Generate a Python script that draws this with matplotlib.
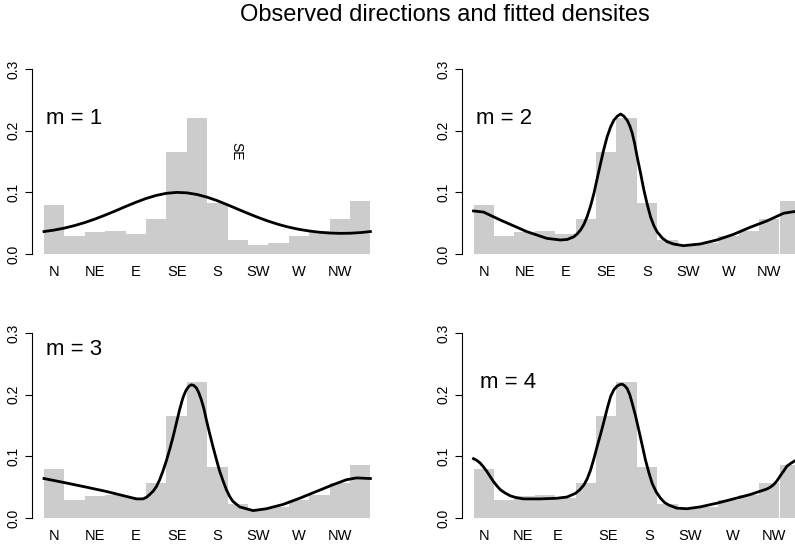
import matplotlib
matplotlib.use('Agg')
import matplotlib.pyplot as plt

plt.rcParams['font.family'] = ['Liberation Sans', 'DejaVu Sans']

directions = ['N', 'NE', 'E', 'SE', 'S', 'SW', 'W', 'NW']

# observed relative frequencies, 16 direction bins starting at N, clockwise
observed = [0.0795, 0.029, 0.035, 0.038, 0.032, 0.057, 0.166, 0.221,
            0.083, 0.023, 0.014, 0.018, 0.029, 0.037, 0.056, 0.086]

# fitted densities, x in bin units (0..16)
fit1_x = [0, 0.5, 1, 1.5, 2, 2.5, 3, 3.5, 4, 4.5, 5, 5.5, 6, 6.5, 7, 7.5, 8,
          8.5, 9, 9.5, 10, 10.5, 11, 11.5, 12, 12.5, 13, 13.5, 14, 14.5, 15,
          15.5, 16]
fit1_y = [0.0364, 0.0388, 0.0420, 0.0461, 0.0510, 0.0567, 0.0631, 0.0699,
          0.0770, 0.0838, 0.0900, 0.0950, 0.0984, 0.0999, 0.0992, 0.0965,
          0.0921, 0.0864, 0.0797, 0.0727, 0.0658, 0.0592, 0.0532, 0.0479,
          0.0435, 0.0400, 0.0373, 0.0353, 0.0340, 0.0335, 0.0337, 0.0347,
          0.0364]

fit2_x = [0, 0.49, 1.31, 2.61, 3.59, 4.26, 4.6, 4.92, 5.08, 5.25, 5.41, 5.57,
          5.74, 5.90, 6.06, 6.23, 6.39, 6.55, 6.72, 6.88, 7.05, 7.21, 7.37,
          7.53, 7.66, 7.78, 7.90, 8.02, 8.19, 8.35, 8.52, 8.68, 8.84, 9.0, 9.25,
          9.49, 9.80, 10.29, 11.11, 11.93, 12.75, 13.56, 14.38, 15.20, 15.77,
          16.0]
fit2_y = [0.0698, 0.068, 0.0552, 0.0363, 0.0254, 0.0227, 0.0236, 0.028, 0.0325,
          0.039, 0.048, 0.0605, 0.078, 0.098, 0.122, 0.147, 0.170, 0.190, 0.206,
          0.217, 0.2235, 0.227, 0.2235, 0.217, 0.208, 0.196, 0.179, 0.158,
          0.131, 0.104, 0.080, 0.060, 0.046, 0.036, 0.026, 0.020, 0.0162,
          0.0135, 0.0162, 0.0227, 0.0319, 0.0433, 0.0536, 0.0661, 0.069, 0.0698]

fit3_x = [0, 1.09, 2.08, 3.06, 4.04, 4.53, 4.85, 5.02, 5.18, 5.35, 5.51, 5.67,
          5.83, 6.0, 6.16, 6.33, 6.49, 6.65, 6.81, 6.94, 7.06, 7.14, 7.22, 7.34,
          7.47, 7.59, 7.71, 7.84, 7.96, 8.12, 8.28, 8.45, 8.61, 8.78, 8.94,
          9.10, 9.26, 9.59, 10.25, 10.90, 11.72, 12.53, 13.35, 14.17, 14.82,
          15.31, 16.0]
fit3_y = [0.064, 0.0568, 0.050, 0.043, 0.035, 0.031, 0.031, 0.0335, 0.038,
          0.0435, 0.051, 0.062, 0.076, 0.093, 0.111, 0.132, 0.154, 0.176, 0.195,
          0.2055, 0.212, 0.2145, 0.216, 0.215, 0.211, 0.203, 0.192, 0.177,
          0.159, 0.137, 0.116, 0.095, 0.076, 0.060, 0.046, 0.035, 0.027, 0.018,
          0.012, 0.015, 0.022, 0.032, 0.043, 0.054, 0.062, 0.065, 0.064]

fit4_x = [0, 0.16, 0.33, 0.49, 0.65, 0.82, 0.98, 1.15, 1.31, 1.55, 1.80, 2.1,
          2.45, 3.27, 4.08, 4.58, 5.0, 5.2, 5.41, 5.58, 5.74, 5.90, 6.06, 6.23,
          6.39, 6.55, 6.72, 6.88, 7.04, 7.17, 7.29, 7.41, 7.53, 7.66, 7.78,
          7.94, 8.10, 8.27, 8.43, 8.60, 8.76, 8.96, 9.17, 9.37, 9.57, 9.97,
          10.46, 11.11, 11.93, 12.75, 13.56, 14.38, 14.55, 14.71, 14.87, 15.03,
          15.20, 15.36, 15.57, 15.77, 16.0]
fit4_y = [0.0962, 0.0935, 0.089, 0.0828, 0.0757, 0.0672, 0.059, 0.052, 0.046,
          0.0405, 0.036, 0.033, 0.031, 0.031, 0.032, 0.034, 0.040, 0.0455,
          0.0535, 0.064, 0.078, 0.096, 0.116, 0.136, 0.156, 0.177, 0.197, 0.208,
          0.214, 0.2163, 0.217, 0.2145, 0.210, 0.200, 0.186, 0.166, 0.143,
          0.118, 0.094, 0.073, 0.056, 0.042, 0.032, 0.025, 0.021, 0.016, 0.015,
          0.018, 0.024, 0.031, 0.038, 0.047, 0.050, 0.054, 0.060, 0.068, 0.076,
          0.084, 0.089, 0.093, 0.0962]

models = ['m = 1', 'm = 2', 'm = 3', 'm = 4']
fits = [(fit1_x, fit1_y), (fit2_x, fit2_y), (fit3_x, fit3_y), (fit4_x, fit4_y)]

# layout (pixels of the 795x545 figure)
W, H = 795, 545
bin_px = 20.4
ax_w = 352.5
col_left = [32, 461.5]
row_zero = [254, 518]
ax_h = 185
label_ticks = [[0.5, 2.5, 4.5, 6.5, 8.5, 10.5, 12.5, 14.5]] * 3 + \
              [[0.5, 2.4, 4.1, 6.6, 8.6, 10.6, 12.7, 14.75]]
label_pos = [(0.1, 0.219), (0.1, 0.220), (0.1, 0.274), (0.34, 0.220)]

fig = plt.figure(figsize=(W / 100, H / 100), dpi=100)

for i in range(4):
    r, c = divmod(i, 2)
    rect = [col_left[c] / W, 1 - row_zero[r] / H, ax_w / W, ax_h / H]
    ax = fig.add_axes(rect)
    x0 = -12 / bin_px
    ax.set_xlim(x0, x0 + ax_w / bin_px)
    ax.set_ylim(0, 0.3)

    ax.bar([k + 0.5 for k in range(len(observed))], observed, width=1.0,
           color='#cccccc', edgecolor='none')
    fx, fy = fits[i]
    ax.plot(fx, fy, color='black', lw=2, solid_joinstyle='round')

    ax.text(label_pos[i][0], label_pos[i][1], models[i], ha='left',
            va='center', fontsize=16)

    for s in ['top', 'right', 'bottom']:
        ax.spines[s].set_visible(False)
    ax.spines['left'].set_bounds(0, 0.3)
    ax.spines['left'].set_linewidth(0.8)
    ax.set_yticks([0, 0.1, 0.2, 0.3])
    ax.set_yticklabels(['0.0', '0.1', '0.2', '0.3'])
    ax.tick_params(axis='y', length=5, width=0.8, labelsize=10, pad=3,
                   labelrotation=90)
    for lab in ax.get_yticklabels():
        lab.set_va('center')
    ax.set_xticks(label_ticks[i])
    ax.set_xticklabels(directions)
    ax.tick_params(axis='x', length=0, labelsize=10.5, pad=8)
    ax.patch.set_visible(False)

    if i == 0:
        # stray label left in the original figure
        ax.text(9.41, 0.167, 'SE', rotation=-90, ha='center', va='center',
                fontsize=10)

fig.text(445 / W, 1 - 15 / H, 'Observed directions and fitted densites',
         ha='center', va='center', fontsize=17)

fig.savefig('out.png', dpi=100)
